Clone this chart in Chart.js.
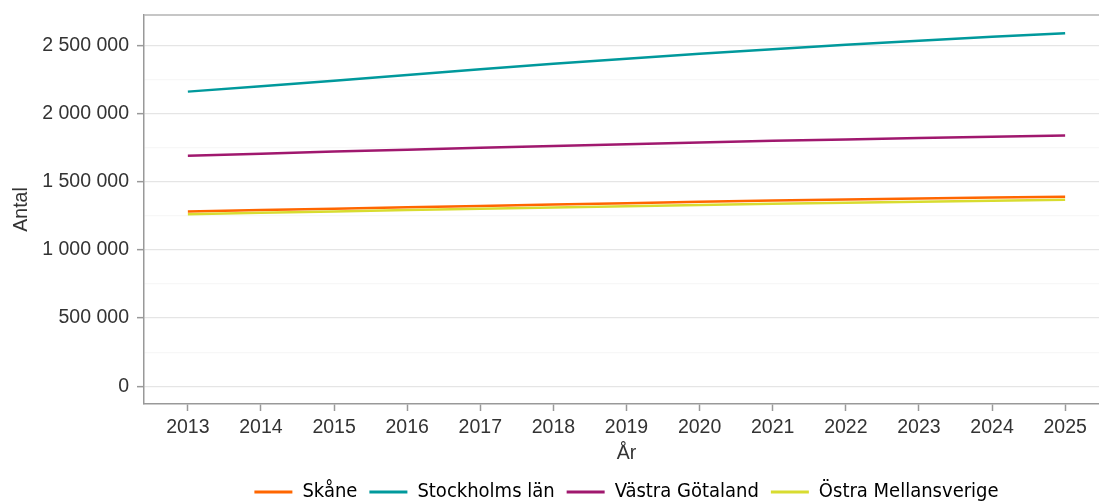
<!DOCTYPE html>
<html>
<head>
<meta charset="utf-8">
<script src="https://cdn.jsdelivr.net/npm/chart.js@4/dist/chart.umd.min.js"></script>
<style>
  html, body { margin: 0; padding: 0; background: #fff; overflow: hidden; }
  #wrap { width: 1266px; height: 512px; }
</style>
</head>
<body>
<div id="wrap"><canvas id="chart"></canvas></div>
<script>
const years = [2013, 2014, 2015, 2016, 2017, 2018, 2019, 2020, 2021, 2022, 2023, 2024, 2025];
const skane = [1281000, 1292000, 1302000, 1313000, 1323000, 1333000, 1343000, 1353000, 1362000, 1370000, 1378000, 1384000, 1390000];
const stockholm = [2161000, 2200000, 2240000, 2283000, 2325000, 2365000, 2403000, 2438000, 2472000, 2504000, 2535000, 2563000, 2590000];
const vastra = [1690000, 1706000, 1721000, 1735000, 1749000, 1762000, 1775000, 1788000, 1800000, 1810000, 1820000, 1830000, 1839000];
const ostra = [1262000, 1272000, 1282000, 1292000, 1302000, 1311000, 1320000, 1329000, 1338000, 1346000, 1354000, 1361000, 1368000];
const yTicks = [0, 250000, 500000, 750000, 1000000, 1250000, 1500000, 1750000, 2000000, 2250000, 2500000];

function punkter(vals) {
    return years.map((y, i) => ({x: y, y: vals[i]}));
}

function formatera(v) {
    return String(v).replace(/\B(?=(\d{3})+(?!\d))/g, ' ');
}

// ram överst på plottytan
const ramPlugin = {
    id: 'ram',
    afterDraw(chart) {
        const a = chart.chartArea;
        const ctx = chart.ctx;
        ctx.save();
        ctx.strokeStyle = '#b3b3b3';
        ctx.lineWidth = 1.5;
        ctx.beginPath();
        ctx.moveTo(a.left, a.top);
        ctx.lineTo(a.right, a.top);
        ctx.stroke();
        ctx.restore();
    }
};

const tickFont = {family: '"Liberation Sans", Arial, sans-serif', size: 19.5};

new Chart(document.getElementById('chart'), {
    type: 'line',
    data: {
        datasets: [
            {label: 'Skåne', data: punkter(skane), borderColor: '#ff6600', backgroundColor: '#ff6600', order: 3},
            {label: 'Stockholms län', data: punkter(stockholm), borderColor: '#00999c', backgroundColor: '#00999c', order: 2},
            {label: 'Västra Götaland', data: punkter(vastra), borderColor: '#a0186e', backgroundColor: '#a0186e', order: 1},
            {label: 'Östra Mellansverige', data: punkter(ostra), borderColor: '#d8dc30', backgroundColor: '#d8dc30', order: 0}
        ]
    },
    options: {
        responsive: true,
        maintainAspectRatio: false,
        animation: false,
        elements: {
            point: {radius: 0},
            line: {borderWidth: 2.5, tension: 0}
        },
        layout: {padding: {top: 15, right: 157, bottom: 0, left: 10}},
        plugins: {
            tooltip: {enabled: false},
            legend: {
                position: 'bottom',
                fullSize: false,
                labels: {
                    usePointStyle: true,
                    pointStyle: 'line',
                    pointStyleWidth: 38,
                    padding: 12,
                    color: '#333',
                    font: {family: '"Liberation Sans Narrow", "DejaVu Sans Condensed", sans-serif', size: 20},
                    generateLabels: chart => chart.data.datasets.map((ds, i) => ({
                        text: ds.label,
                        strokeStyle: ds.borderColor,
                        fillStyle: ds.borderColor,
                        lineWidth: 3,
                        pointStyle: 'line',
                        hidden: false,
                        datasetIndex: i
                    }))
                }
            }
        },
        scales: {
            x: {
                type: 'linear',
                min: 2012.4,
                max: 2025.6,
                afterBuildTicks: scale => { scale.ticks = years.map(v => ({value: v})); },
                afterFit: scale => { scale.height = 66; },
                grid: {display: true, drawOnChartArea: false, tickLength: 7, tickColor: '#999', tickWidth: 1.5},
                border: {display: true, color: '#999', width: 1.5},
                ticks: {color: '#333', font: tickFont, padding: 5, maxRotation: 0, callback: v => String(v)},
                title: {display: true, text: 'År', color: '#333', font: tickFont, padding: {top: 0, bottom: 5}}
            },
            y: {
                min: -130000,
                max: 2723000,
                afterBuildTicks: scale => { scale.ticks = yTicks.map(v => ({value: v})); },
                afterFit: scale => { scale.width = 134; scale.paddingTop = 0; },
                grid: {
                    color: ctx => (ctx.tick && ctx.tick.value % 500000 === 0) ? '#e5e5e5' : '#f7f7f7',
                    lineWidth: 1.3,
                    tickLength: 7,
                    tickColor: ctx => (ctx.tick && ctx.tick.value % 500000 === 0) ? '#999' : 'rgba(0,0,0,0)',
                    tickWidth: 1.5
                },
                border: {display: true, color: '#999', width: 1.5},
                ticks: {
                    color: '#333',
                    font: tickFont,
                    padding: 8,
                    autoSkip: false,
                    callback: v => (v % 500000 === 0) ? formatera(v) : ''
                },
                title: {display: true, text: 'Antal', color: '#333', font: tickFont, padding: {top: 0, bottom: 2}}
            }
        }
    },
    plugins: [ramPlugin]
});
</script>
</body>
</html>
